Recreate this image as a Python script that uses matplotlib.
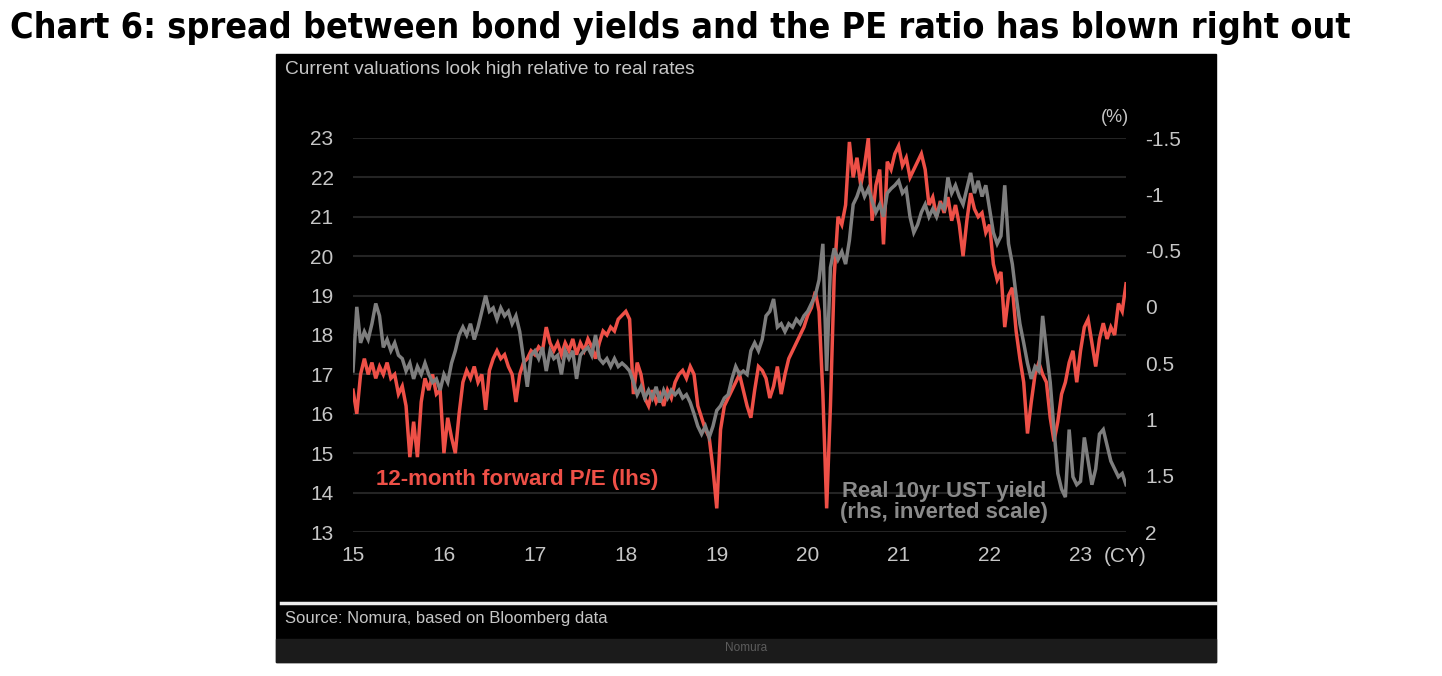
import numpy as np
import matplotlib
matplotlib.use("Agg")
import matplotlib.pyplot as plt
from matplotlib.patches import Rectangle

# semi-monthly readings, Jan 2015 -> mid 2023 (24 per year)
pe_vals = [
    16.6, 16.0, 17.0, 17.4, 17.0, 17.3, 16.9, 17.2, 17.0, 17.3, 16.9, 17.0, 16.5, 16.7, 16.2, 14.9, 15.8, 14.9, 16.3, 16.9, 16.6, 17.0, 16.5, 16.6,  # 2015
    15.0, 15.9, 15.4, 15.0, 16.0, 16.8, 17.1, 16.9, 17.2, 16.8, 17.0, 16.1, 17.1, 17.4, 17.6, 17.4, 17.5, 17.2, 17.0, 16.3, 17.0, 17.3, 17.4, 17.6,  # 2016
    17.5, 17.7, 17.6, 18.2, 17.8, 17.6, 17.8, 17.5, 17.8, 17.6, 17.9, 17.5, 17.8, 17.6, 17.9, 17.7, 17.4, 17.8, 18.1, 18.0, 18.2, 18.1, 18.4, 18.5,  # 2017
    18.6, 18.4, 16.5, 17.3, 17.0, 16.4, 16.2, 16.6, 16.3, 16.5, 16.2, 16.6, 16.4, 16.8, 17.0, 17.1, 16.9, 17.2, 17.0, 16.2, 15.9, 15.6, 15.4, 14.6,  # 2018
    13.6, 15.6, 16.2, 16.4, 16.6, 16.8, 17.0, 16.6, 16.2, 15.9, 16.6, 17.2, 17.1, 16.9, 16.4, 16.7, 17.2, 16.5, 17.0, 17.4, 17.6, 17.8, 18.0, 18.2,  # 2019
    18.5, 18.7, 19.1, 18.6, 16.5, 13.6, 16.2, 19.5, 21.0, 20.8, 21.3, 22.9, 22.0, 22.5, 21.8, 22.3, 23.0, 20.9, 21.8, 22.2, 20.3, 22.4, 22.2, 22.6,  # 2020
    22.8, 22.3, 22.5, 22.0, 22.2, 22.4, 22.6, 22.2, 21.3, 21.5, 21.0, 21.4, 21.1, 21.5, 20.9, 21.3, 20.8, 20.0, 20.9, 21.6, 21.2, 21.0, 21.1, 20.6,  # 2021
    20.8, 19.8, 19.4, 19.6, 18.2, 19.0, 19.2, 18.1, 17.4, 16.8, 15.5, 16.3, 17.0, 17.3, 17.0, 16.8, 15.9, 15.3, 15.8, 16.5, 16.8, 17.3, 17.6, 16.8,  # 2022
    17.6, 18.2, 18.4, 17.8, 17.2, 17.9, 18.3, 17.9, 18.2, 18.0, 18.8, 18.6, 19.3,  # 2023
]

real_yield = [
    0.57, 0.00, 0.32, 0.22, 0.29, 0.15, -0.03, 0.08, 0.36, 0.29, 0.39, 0.32, 0.43, 0.46, 0.57, 0.50, 0.64, 0.53, 0.60, 0.50, 0.60, 0.67, 0.64, 0.74,  # 2015
    0.60, 0.67, 0.50, 0.39, 0.25, 0.18, 0.25, 0.15, 0.29, 0.18, 0.04, -0.10, 0.04, 0.01, 0.11, 0.01, 0.08, 0.04, 0.15, 0.08, 0.22, 0.46, 0.71, 0.43,  # 2016
    0.39, 0.46, 0.36, 0.57, 0.39, 0.46, 0.43, 0.60, 0.39, 0.46, 0.39, 0.64, 0.43, 0.39, 0.36, 0.43, 0.25, 0.46, 0.50, 0.46, 0.53, 0.46, 0.53, 0.50,  # 2017
    0.53, 0.57, 0.67, 0.78, 0.71, 0.81, 0.74, 0.81, 0.71, 0.85, 0.74, 0.81, 0.74, 0.78, 0.74, 0.81, 0.78, 0.85, 0.95, 1.06, 1.13, 1.06, 1.16, 1.06,  # 2018
    0.92, 0.88, 0.81, 0.78, 0.64, 0.53, 0.60, 0.57, 0.60, 0.39, 0.32, 0.39, 0.29, 0.08, 0.04, -0.07, 0.18, 0.15, 0.22, 0.15, 0.18, 0.11, 0.15, 0.08,  # 2019
    0.04, -0.03, -0.10, -0.24, -0.56, 0.57, -0.35, -0.52, -0.42, -0.49, -0.38, -0.59, -0.91, -0.98, -1.08, -0.98, -1.05, -0.94, -0.84, -0.91, -0.80, -1.01, -1.05, -1.08,  # 2020
    -1.12, -1.01, -1.05, -0.80, -0.66, -0.73, -0.84, -0.91, -0.80, -0.87, -0.80, -0.91, -0.87, -1.15, -1.01, -1.08, -0.98, -0.91, -1.05, -1.19, -1.01, -1.12, -0.98, -1.08,  # 2021
    -0.87, -0.66, -0.56, -0.63, -1.08, -0.56, -0.38, -0.10, 0.15, 0.32, 0.50, 0.64, 0.53, 0.57, 0.08, 0.39, 0.67, 1.09, 1.48, 1.62, 1.69, 1.09, 1.51, 1.58,  # 2022
    1.55, 1.16, 1.37, 1.58, 1.44, 1.13, 1.09, 1.23, 1.37, 1.44, 1.51, 1.48, 1.58,  # 2023
]

year_ticks = [2015, 2016, 2017, 2018, 2019, 2020, 2021, 2022, 2023]
year_labels = ["15", "16", "17", "18", "19", "20", "21", "22", "23"]
lhs_ticks = [13, 14, 15, 16, 17, 18, 19, 20, 21, 22, 23]
rhs_ticks = [-1.5, -1, -0.5, 0, 0.5, 1, 1.5, 2]
rhs_labels = ["-1.5", "-1", "-0.5", "0", "0.5", "1", "1.5", "2"]

dates = 2015 + np.arange(len(pe_vals)) / 24.0

W, H = 1442, 676
fx = lambda px: px / W
fy = lambda py: 1 - py / H

RED = "#ee5047"
GREY = "#7e7e7e"
TXT = "#c6c6c6"

plt.rcParams["font.family"] = ["Liberation Sans", "DejaVu Sans"]

fig = plt.figure(figsize=(W / 100, H / 100), dpi=100)
fig.patch.set_facecolor("white")

# black panel + footer band
fig.add_artist(Rectangle((fx(276), fy(662)), (1216 - 276) / W, (662 - 54) / H,
                         transform=fig.transFigure, color="black", zorder=0))
fig.add_artist(Rectangle((fx(276), fy(662)), (1216 - 276) / W, (662 - 639) / H,
                         transform=fig.transFigure, color="#1b1b1b", zorder=1))
fig.add_artist(plt.Line2D([fx(281), fx(1216)], [fy(603), fy(603)],
                          transform=fig.transFigure, color="#ececec", lw=2.5))

# title, scaled to the width of the original
title = fig.text(fx(10), fy(28), "Chart 6: spread between bond yields and the PE ratio has blown right out",
                 fontsize=22, fontweight="bold", color="black", va="center", ha="left",
                 family="DejaVu Sans", fontstretch="condensed")
fig.canvas.draw()
w = title.get_window_extent().width
title.set_fontsize(22 * (1345 - 10) / w)

fig.text(fx(285), fy(70), "Current valuations look high relative to real rates",
         fontsize=13.8, color=TXT, va="center", ha="left")
fig.text(fx(285), fy(619), "Source: Nomura, based on Bloomberg data",
         fontsize=12, color=TXT, va="center", ha="left")
fig.text(fx(746), fy(648), "Nomura", fontsize=8.5, color="#5c5c5c", va="center", ha="center")

ax = fig.add_axes([fx(353), fy(532), (1126 - 353) / W, (532 - 138) / H])
ax.patch.set_visible(False)
ax.plot(dates, pe_vals, color=RED, lw=2.5, solid_joinstyle="miter")
ax.set_xlim(2015, 2023.5)
ax.set_ylim(13, 23)
ax.set_yticks(lhs_ticks)
ax.set_xticks(year_ticks)
ax.set_xticklabels(year_labels)
ax.grid(axis="y", color="#242424", lw=1.5)
ax.set_axisbelow(True)
for s in ax.spines.values():
    s.set_visible(False)
ax.tick_params(axis="y", length=0, pad=14, labelsize=15, labelcolor=TXT)
ax.tick_params(axis="x", length=0, pad=10, labelsize=15, labelcolor=TXT)

ax2 = ax.twinx()
ax2.plot(dates, real_yield, color=GREY, lw=2.5, solid_joinstyle="miter")
ax2.set_ylim(2, -1.5)
ax2.set_yticks(rhs_ticks)
ax2.set_yticklabels(rhs_labels)
ax2.set_xlim(2015, 2023.5)
for s in ax2.spines.values():
    s.set_visible(False)
ax2.tick_params(axis="y", length=0, pad=14, labelsize=15, labelcolor=TXT)

fig.text(fx(1104), fy(557), "(CY)", fontsize=15, color=TXT, va="center", ha="left")
fig.text(fx(1101), fy(117), "(%)", fontsize=13, color=TXT, va="center", ha="left")

ax.text(2015.25, 14.32, "12-month forward P/E (lhs)", color=RED, fontsize=16,
        fontweight="bold", va="center", ha="left")
ax.text(2021.5, 13.77, "Real 10yr UST yield\n(rhs, inverted scale)", color="#8a8a8a",
        fontsize=15.8, fontweight="bold", va="center", ha="center", linespacing=1.0)

fig.savefig("out.png", dpi=100, facecolor=fig.get_facecolor())
